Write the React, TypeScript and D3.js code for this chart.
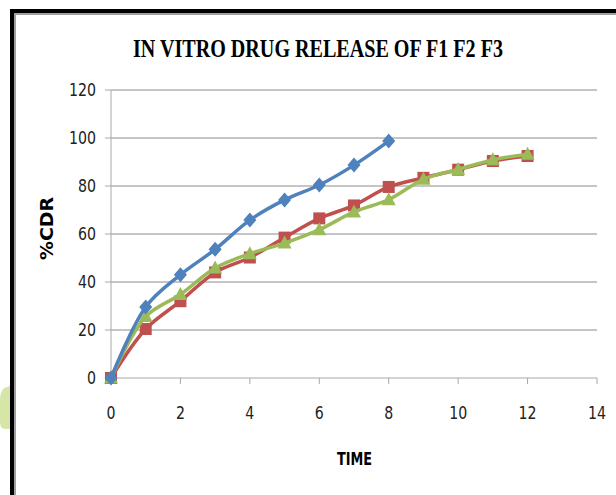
import React from "react";
import * as d3 from "d3";

const TIME: number[] = [0, 1, 2, 3, 4, 5, 6, 7, 8, 9, 10, 11, 12];
const F1: number[] = [0, 29.6, 43, 53.6, 65.8, 74.2, 80.4, 88.7, 98.7];
const F2: number[] = [0, 20.4, 32, 44, 50.2, 58.5, 66.5, 71.9, 79.6, 83.4, 86.8, 90.4, 92.5];
const F3: number[] = [0, 25.6, 34.8, 45.8, 51.8, 56.2, 61.8, 69.2, 74.3, 82.8, 86.9, 90.9, 93.2];
const X_TICKS: number[] = [0, 2, 4, 6, 8, 10, 12, 14];
const Y_TICKS: number[] = [0, 20, 40, 60, 80, 100, 120];
const TITLE = "IN VITRO DRUG RELEASE OF F1 F2 F3";
const X_LABEL = "TIME";
const Y_LABEL = "%CDR";

const COLORS = { F1: "#4F81BD", F2: "#C0504D", F3: "#9BBB59" };

export default function App() {
  const W = 616, H = 495;
  const x = d3.scaleLinear().domain([0, 14]).range([111, 597]);
  const y = d3.scaleLinear().domain([0, 120]).range([378, 90]);
  const line = d3
    .line<[number, number]>()
    .x((d) => x(d[0]))
    .y((d) => y(d[1]))
    .curve(d3.curveCatmullRom.alpha(0.5));

  const series = [
    { key: "F2", vals: F2, color: COLORS.F2, shape: "square" },
    { key: "F3", vals: F3, color: COLORS.F3, shape: "triangle" },
    { key: "F1", vals: F1, color: COLORS.F1, shape: "diamond" },
  ];

  const tickFont = "'DejaVu Sans Condensed', 'DejaVu Sans', sans-serif";

  const marker = (shape: string, cx: number, cy: number, color: string, k: string) => {
    if (shape === "square")
      return <rect key={k} x={cx - 6} y={cy - 6} width={12} height={12} fill={color} />;
    if (shape === "triangle") {
      const p = `${cx},${cy - 7.5} ${cx + 7},${cy + 5.5} ${cx - 7},${cy + 5.5}`;
      return <polygon key={k} points={p} fill={color} />;
    }
    const p = `${cx},${cy - 7.5} ${cx + 6.5},${cy} ${cx},${cy + 7.5} ${cx - 6.5},${cy}`;
    return <polygon key={k} points={p} fill={color} />;
  };

  return (
    <svg
      width={W}
      height={H}
      style={{ position: "absolute", left: 0, top: 0, background: "#fff" }}
    >
      <rect x={0} y={0} width={W} height={H} fill="#fff" />
      <path d="M 10 386 L 4 388 Q 0 392 0 400 L 0 422 Q 0 429 5 429 L 10 429 Z" fill="#d6e6a6" />
      <rect x={10} y={9} width={W - 10} height={4} fill="#000" />
      <rect x={10} y={9} width={4} height={H - 9} fill="#000" />
      <rect x={14} y={13} width={W - 14} height={2} fill="#a0a0a0" />
      <rect x={14} y={13} width={2} height={H - 13} fill="#a0a0a0" />

      <text
        x={318}
        y={56.5}
        textAnchor="middle"
        fontFamily="'Liberation Serif', 'Times New Roman', serif"
        fontWeight="bold"
        fontSize={26}
        textLength={370}
        lengthAdjust="spacingAndGlyphs"
        fill="#000"
      >
        {TITLE}
      </text>

      {Y_TICKS.filter((t) => t > 0).map((t) => (
        <line key={"g" + t} x1={x(0)} x2={x(14)} y1={y(t)} y2={y(t)} stroke="#8c8c8c" strokeWidth={1} />
      ))}
      <line x1={x(0)} x2={x(0)} y1={y(120)} y2={y(0)} stroke="#a8a8a8" strokeWidth={1} />
      <line x1={x(0)} x2={x(14)} y1={y(0)} y2={y(0)} stroke="#a8a8a8" strokeWidth={1} />
      {Y_TICKS.map((t) => (
        <g key={"y" + t}>
          <line x1={x(0) - 6} x2={x(0)} y1={y(t)} y2={y(t)} stroke="#a8a8a8" />
          <text
            x={96}
            y={y(t)}
            dy="0.36em"
            textAnchor="end"
            fontFamily={tickFont}
            fontSize={17}
            textLength={String(t).length * 9}
            lengthAdjust="spacingAndGlyphs"
            fill="#222"
          >
            {t}
          </text>
        </g>
      ))}
      {X_TICKS.map((t) => (
        <g key={"x" + t}>
          <line x1={x(t)} x2={x(t)} y1={y(0)} y2={y(0) + 6} stroke="#a8a8a8" />
          <text
            x={x(t)}
            y={413}
            dy="0.36em"
            textAnchor="middle"
            fontFamily={tickFont}
            fontSize={17}
            textLength={String(t).length * 9}
            lengthAdjust="spacingAndGlyphs"
            fill="#222"
          >
            {t}
          </text>
        </g>
      ))}

      <text
        x={354.5}
        y={465}
        textAnchor="middle"
        fontFamily={tickFont}
        fontWeight="bold"
        fontSize={18}
        textLength={35}
        lengthAdjust="spacingAndGlyphs"
        fill="#000"
      >
        {X_LABEL}
      </text>
      <text
        transform={`translate(53,228.5) rotate(-90)`}
        textAnchor="middle"
        fontFamily={tickFont}
        fontWeight="bold"
        fontSize={18}
        textLength={63}
        lengthAdjust="spacingAndGlyphs"
        fill="#000"
      >
        {Y_LABEL}
      </text>

      {series.map((s) => {
        const pts: [number, number][] = s.vals.map((v, i) => [TIME[i], v]);
        return (
          <g key={s.key}>
            <path d={line(pts) || ""} fill="none" stroke={s.color} strokeWidth={3.5} strokeLinejoin="round" />
            {pts.map((p, i) => marker(s.shape, x(p[0]), y(p[1]), s.color, s.key + i))}
          </g>
        );
      })}
    </svg>
  );
}
